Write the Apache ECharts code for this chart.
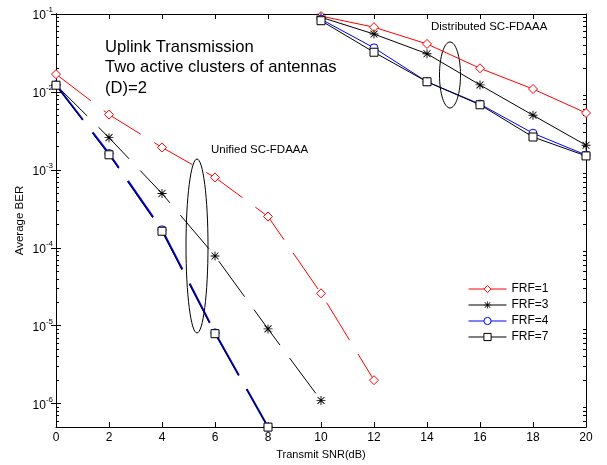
<!DOCTYPE html>
<html>
<head>
<meta charset="utf-8">
<script src="https://cdn.jsdelivr.net/npm/echarts@6/dist/echarts.min.js"></script>
<style>
  html, body { margin: 0; padding: 0; background: #fff; }
  #main { width: 607px; height: 465px; }
</style>
</head>
<body>
<div id="main"></div>
<script>
// SNR points (dB)
const snrUnified = [0, 2, 4, 6, 8, 10, 12]
const snrDistributed = [10, 12, 14, 16, 18, 20]

// Unified SC-FDAAA (dashed)
const uniFRF1 = [0.0169, 0.00512, 0.00194, 0.00080, 0.000252, 2.6e-5, 2.0e-6]
const uniFRF3 = [0.0123, 0.00259, 0.000497, 7.85e-5, 9.1e-6, 1.1e-6]
const uniFRF4 = [0.0123, 0.00162, 0.000170, 8.1e-6, 5.0e-7]
const uniFRF7 = [0.0122, 0.00156, 0.000163, 7.9e-6, 5.0e-7]

// Distributed SC-FDAAA (solid)
const disFRF1 = [0.094, 0.0677, 0.0413, 0.0201, 0.0109, 0.00537]
const disFRF3 = [0.0908, 0.0553, 0.0309, 0.0123, 0.00502, 0.00207]
const disFRF4 = [0.0857, 0.0368, 0.0135, 0.00698, 0.00295, 0.00155]
const disFRF7 = [0.082, 0.0323, 0.0135, 0.00684, 0.00264, 0.00151]

const yMajor = [1e-6, 1e-5, 1e-4, 1e-3, 1e-2, 1e-1]
const yMinor = []
for (let e = -7; e <= -2; e++) {
  for (let m = 2; m <= 9; m++) {
    const v = m * Math.pow(10, e)
    if (v >= 5e-7 && v <= 0.1) yMinor.push(v)
  }
}

const FONT = 'Liberation Sans, Arial, sans-serif'
// asterisk, like matlab '*'
const starPath = 'path://M4.5,0 h1 v10 h-1 Z M0,4.5 h10 v1 h-10 Z M0.8,1.5 L1.5,0.8 L9.2,8.5 L8.5,9.2 Z M8.5,0.8 L9.2,1.5 L1.5,9.2 L0.8,8.5 Z'

const pairs = (xs, ys) => ys.map((y, i) => [xs[i], y])

function mkSeries (name, xs, ys, color, symbol, size, dashed, width) {
  const solidMark = symbol.indexOf('path://') === 0
  return {
    name: name,
    type: 'line',
    data: pairs(xs, ys),
    symbol: symbol,
    symbolSize: size,
    clip: false,
    color: color,
    // hollow markers: white fill + thin coloured border (empty* symbols force 2px)
    itemStyle: solidMark
      ? { color: color, borderWidth: 0 }
      : { color: '#fff', borderColor: color, borderWidth: 1 },
    lineStyle: { color: color, width: width || 1, type: dashed ? [44, 16] : 'solid' },
    emphasis: { disabled: true },
    animation: false
  }
}

const yLabelRich = {
  b: { fontSize: 12, fontFamily: FONT, color: '#000', padding: [4, 0, 0, 0] },
  s: { fontSize: 8, fontFamily: FONT, color: '#000', verticalAlign: 'top' }
}

function yAxisDef (pos, major) {
  return {
    type: 'log',
    logBase: 10,
    min: 5e-7,
    max: 0.1,
    position: pos,
    splitLine: { show: false },
    axisLine: { show: true, lineStyle: { color: '#000', width: 1 } },
    axisTick: {
      show: true,
      inside: true,
      length: major ? 5 : 3,
      customValues: major ? yMajor : yMinor,
      lineStyle: { color: '#000' }
    },
    axisLabel: {
      show: major && pos === 'left',
      customValues: yMajor,
      margin: 3,
      formatter: v => '{b|10}{s|' + Math.round(Math.log10(v)) + '}',
      rich: yLabelRich
    },
    name: major && pos === 'left' ? 'Average BER' : '',
    nameLocation: 'middle',
    nameGap: 30,
    nameMoveOverlap: false,
    nameTextStyle: { fontSize: 11.5, fontFamily: FONT, color: '#000' }
  }
}

function xAxisDef (pos) {
  return {
    type: 'value',
    min: 0,
    max: 20,
    interval: 2,
    position: pos,
    splitLine: { show: false },
    axisLine: { show: true, onZero: false, lineStyle: { color: '#000', width: 1 } },
    axisTick: { show: true, inside: true, length: 5, lineStyle: { color: '#000' } },
    axisLabel: {
      show: pos === 'bottom',
      margin: 5,
      fontSize: 12,
      fontFamily: FONT,
      color: '#000'
    },
    name: pos === 'bottom' ? 'Transmit SNR(dB)' : '',
    nameLocation: 'middle',
    nameGap: 16,
    nameTextStyle: { fontSize: 11, fontFamily: FONT, color: '#000' }
  }
}

const chart = echarts.init(document.getElementById('main'), null, { renderer: 'canvas' })
const option = {
  backgroundColor: '#fff',
  animation: false,
  grid: { left: 56, right: 21, top: 14, bottom: 32, containLabel: false },
  xAxis: [xAxisDef('bottom'), xAxisDef('top')],
  yAxis: [yAxisDef('left', true), yAxisDef('right', true), yAxisDef('right', false), yAxisDef('left', false)],
  legend: {
    orient: 'vertical',
    left: 463,
    top: 278,
    itemWidth: 38,
    itemHeight: 9,
    itemGap: 4,
    data: ['FRF=1', 'FRF=3', 'FRF=4', 'FRF=7'],
    itemStyle: { borderWidth: 1 },
    lineStyle: { width: 1 },
    textStyle: { fontSize: 12, fontFamily: FONT, color: '#000' },
    selectedMode: false
  },
  series: [
    mkSeries('FRF=1', snrDistributed, disFRF1, '#ff0000', 'diamond', 9, false),
    mkSeries('FRF=3', snrDistributed, disFRF3, '#000000', starPath, 9, false),
    mkSeries('FRF=4', snrDistributed, disFRF4, '#0000ff', 'circle', 8, false),
    mkSeries('FRF=7', snrDistributed, disFRF7, '#000000', 'rect', 8, false),
    mkSeries('FRF=1', snrUnified, uniFRF1, '#ff0000', 'diamond', 9, true),
    mkSeries('FRF=3', snrUnified, uniFRF3, '#000000', starPath, 9, true),
    mkSeries('FRF=4', snrUnified, uniFRF4, '#0000ff', 'circle', 8, true, 2),
    mkSeries('FRF=7', snrUnified, uniFRF7, '#000000', 'rect', 8, true)
  ],
  graphic: [
    {
      type: 'text',
      left: 105,
      top: 37,
      style: {
        text: 'Uplink Transmission\nTwo active clusters of antennas\n(D)=2',
        fontSize: 16.6,
        lineHeight: 20.5,
        fontFamily: FONT,
        fill: '#000'
      }
    },
    {
      type: 'text',
      left: 211,
      top: 144,
      style: { text: 'Unified SC-FDAAA', fontSize: 11.5, fontFamily: FONT, fill: '#000' }
    },
    {
      type: 'text',
      left: 431,
      top: 21,
      style: { text: 'Distributed SC-FDAAA', fontSize: 11.5, fontFamily: FONT, fill: '#000' }
    },
    {
      type: 'ellipse',
      shape: { cx: 197, cy: 246, rx: 11, ry: 87 },
      style: { fill: 'none', stroke: '#000', lineWidth: 1 }
    },
    {
      type: 'ellipse',
      shape: { cx: 450, cy: 75, rx: 10.5, ry: 33 },
      style: { fill: 'none', stroke: '#000', lineWidth: 1 }
    }
  ]
}
chart.setOption(option)
</script>
</body>
</html>
